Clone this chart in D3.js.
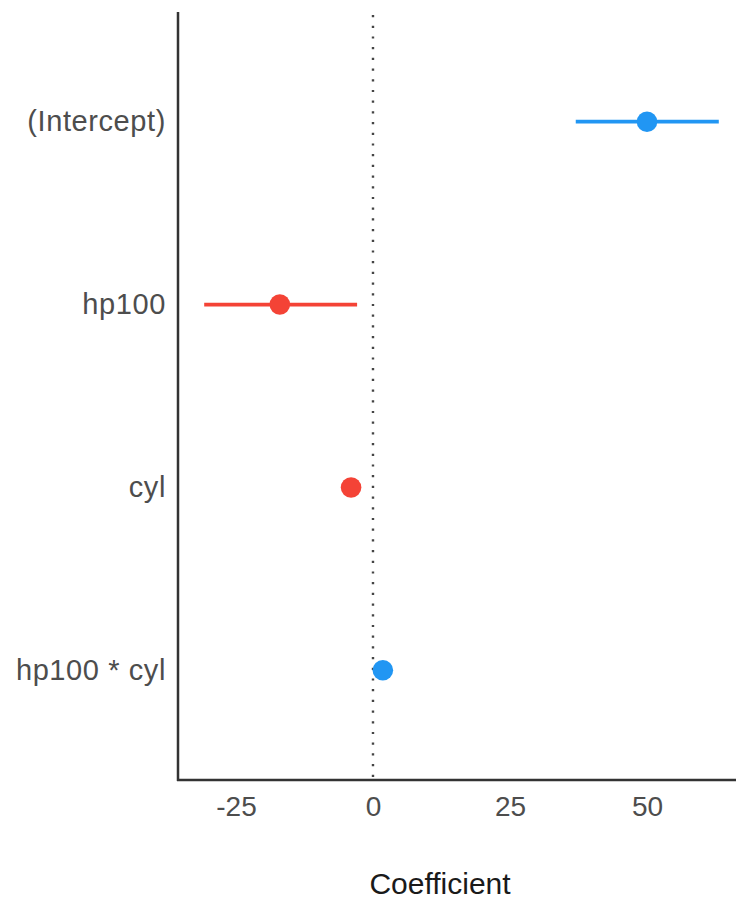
<!DOCTYPE html>
<html>
<head>
<meta charset="utf-8">
<script src="https://cdn.jsdelivr.net/npm/d3@7"></script>
<style>
  body { margin: 0; background: #fff; }
  svg text { font-family: "Liberation Sans", Arial, sans-serif; }
</style>
</head>
<body>
<div id="container"></div>
<script>
// model terms, top to bottom
const terms = ["(Intercept)", "hp100", "cyl", "hp100 * cyl"];
const estimates = [50.0, -17.0, -4.0, 1.8];
const ciLow = [37.0, -30.8, -4.6, 1.3];
const ciHigh = [63.1, -2.9, -3.4, 2.3];
const xTicks = [-25, 0, 25, 50];

const w = 736, h = 899;
const color = { pos: "#2196F3", neg: "#F44336" };

const svg = d3.select("#container").append("svg").attr("width", w).attr("height", h);

const xScale = d3.scaleLinear()
  .domain([-35.58, 66.24])
  .range([178, 736]);

const yScale = d3.scalePoint()
  .domain(terms)
  .range([12, 780])
  .padding(0.6);

const rows = terms.map((t, i) => ({ term: t, est: estimates[i], lo: ciLow[i], hi: ciHigh[i] }));

// zero reference line
svg.append("line")
  .attr("x1", xScale(0)).attr("x2", xScale(0))
  .attr("y1", 15).attr("y2", 780)
  .attr("stroke", "#444")
  .attr("stroke-width", 2.4)
  .attr("stroke-dasharray", "2.2,8.5");

// axes
const xAxis = d3.axisBottom(xScale).tickValues(xTicks).tickSize(0).tickPadding(16)
  .tickFormat(d => String(d));
const xg = svg.append("g").attr("transform", "translate(0,780)").call(xAxis);
xg.select(".domain").remove();
xg.selectAll("text").attr("font-size", 28).attr("fill", "#4d4d4d");

const yAxis = d3.axisLeft(yScale).tickSize(0).tickPadding(12);
const yg = svg.append("g").attr("transform", "translate(178,0)").call(yAxis);
yg.select(".domain").remove();
yg.selectAll("text").attr("font-size", 29).attr("letter-spacing", 0.6).attr("fill", "#4d4d4d");

svg.append("line")
  .attr("x1", 178).attr("x2", 178).attr("y1", 12).attr("y2", 781)
  .attr("stroke", "#333").attr("stroke-width", 2.5);
svg.append("line")
  .attr("x1", 177).attr("x2", 736).attr("y1", 780).attr("y2", 780)
  .attr("stroke", "#333").attr("stroke-width", 2.5);

// confidence intervals
svg.selectAll(".ci")
  .data(rows)
  .enter()
  .append("line")
    .attr("class", "ci")
    .attr("x1", d => xScale(d.lo))
    .attr("x2", d => xScale(d.hi))
    .attr("y1", d => yScale(d.term))
    .attr("y2", d => yScale(d.term))
    .attr("stroke", d => d.est > 0 ? color.pos : color.neg)
    .attr("stroke-width", 3.8);

// point estimates
svg.selectAll(".pt")
  .data(rows)
  .enter()
  .append("circle")
    .attr("class", "pt")
    .attr("cx", d => xScale(d.est))
    .attr("cy", d => yScale(d.term))
    .attr("r", 10.3)
    .attr("fill", d => d.est > 0 ? color.pos : color.neg);

// axis title
svg.append("text")
  .attr("x", 440)
  .attr("y", 894)
  .attr("text-anchor", "middle")
  .attr("font-size", 30)
  .attr("fill", "#1a1a1a")
  .text("Coefficient");
</script>
</body>
</html>
